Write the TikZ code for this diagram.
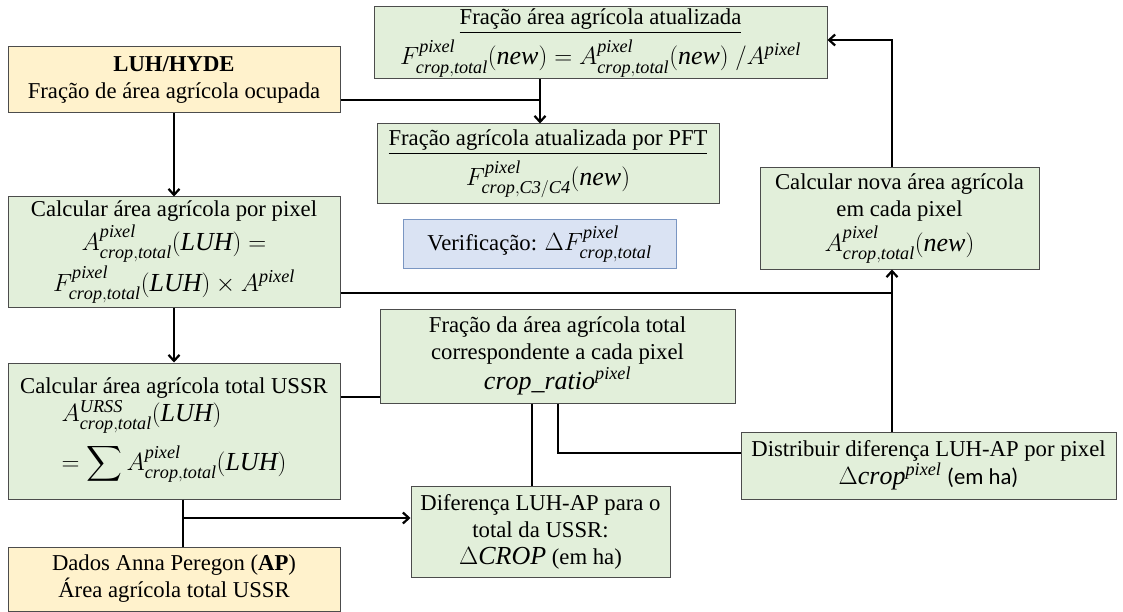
\documentclass[tikz,border=0pt]{standalone}
\usepackage{exscale}
\usepackage{fontspec}
\setmainfont{Liberation Serif}
\newfontfamily\carlito{Carlito}
\usetikzlibrary{arrows.meta,calc}
\definecolor{boxgreen}{HTML}{E2EFDA}
\definecolor{boxyellow}{HTML}{FFF2CC}
\definecolor{boxblue}{HTML}{DAE3F3}
\definecolor{blueedge}{HTML}{7A96C2}
\newcommand{\mfont}{\fontsize{26}{30}\selectfont}
\newcommand{\mi}[1]{\mathit{#1}}
\begin{document}
\begin{tikzpicture}[x=1pt,y=-1pt,
  every node/.style={font=\fontsize{22.7}{27}\selectfont},
  box/.style 2 args={draw=black!70, line width=1pt, fill=boxgreen, align=center,
    inner sep=0pt, minimum width=#1, minimum height=#2},
  ybox/.style={fill=boxyellow},
  bbox/.style={fill=boxblue, draw=blueedge},
  conn/.style={line width=2.2pt, black},
  arr/.style={conn, -{Straight Barb[length=6pt,width=11pt]}}]
\useasboundingbox (0,0) rectangle (1123,612);

\node[box={332pt}{66pt}, ybox] (luh) at (174,80) {\textbf{LUH/HYDE}\\Fração de área agrícola ocupada};
\node[box={332pt}{110pt}] (pixel) at (174,252) {Calcular área agrícola por pixel\\[3pt]
  {\mfont $A^{\mi{pixel}}_{\mi{crop,total}}(\mi{LUH}) =$}\\[3pt]
  {\mfont $F^{\mi{pixel}}_{\mi{crop,total}}(\mi{LUH})\times A^{\mi{pixel}}$}};
\node[box={332pt}{136pt}] (ussr) at (174,431) {Calcular área agrícola total USSR\\[1pt]
  {\mfont\begin{tabular}{@{}l@{}}
  $A^{\mi{URSS}}_{\mi{crop,total}}(\mi{LUH})$\\[14pt]
  $\displaystyle =\sum A^{\mi{pixel}}_{\mi{crop,total}}(\mi{LUH})$
  \end{tabular}}};
\node[box={332pt}{64pt}, ybox] (ap) at (174,579) {Dados Anna Peregon (\textbf{AP})\\Área agrícola total USSR};

\node[box={453pt}{72pt}] (top) at (600.5,43) {\underline{Fração área agrícola atualizada}\\[5pt]
  {\mfont $F^{\mi{pixel}}_{\mi{crop,total}}(\mi{new}) = A^{\mi{pixel}}_{\mi{crop,total}}(\mi{new})\ / A^{\mi{pixel}}$}};
\node[box={342pt}{80pt}] (pft) at (548,164) {\underline{Fração agrícola atualizada por PFT}\\[5pt]
  {\mfont $F^{\mi{pixel}}_{\mi{crop,C3/C4}}(\mi{new})$}};
\node[box={273pt}{48pt}, bbox] (verif) at (539.5,244) {Verificação: {\mfont $\Delta F^{\mi{pixel}}_{\mi{crop,total}}$}};
\node[box={279pt}{101pt}] (nova) at (899.5,218.5) {Calcular nova área agrícola\\em cada pixel\\[4pt]
  {\mfont $A^{\mi{pixel}}_{\mi{crop,total}}(\mi{new})$}};
\node[box={355pt}{94pt}] (frac) at (557.5,356) {Fração da área agrícola total\\correspondente a cada pixel\\[1pt]
  {\mfont $\mi{crop\_ratio}^{\mi{pixel}}$}};
\node[box={375pt}{67pt}] (dist) at (928.5,465.5) {Distribuir diferença LUH-AP por pixel\\[1pt]
  {\mfont $\Delta \mi{crop}^{\mi{pixel}}$} {\carlito (em ha)}};
\node[box={259pt}{91pt}] (diff) at (540.5,531.5) {Diferença LUH-AP para o\\total da USSR:\\
  {\mfont $\Delta \mi{CROP}$} (em ha)};

\coordinate (j1) at (540,100);
\coordinate (j2) at (892,293);
\coordinate (j3) at (380,397);
\coordinate (j4) at (183,518);
\coordinate (j5) at (558,453);
\coordinate (j6) at (892,40);
\coordinate (c1) at (532,0);

\draw[conn] (luh.east |- j1) -- (j1);
\draw[arr] (top.south -| j1) -- (pft.north -| j1);
\draw[arr] (luh) -- (pixel);
\draw[arr] (pixel) -- (ussr);
\draw[conn] (pixel.east |- j2) -- (j2);
\draw[arr] (dist.north -| j2) -- (nova.south -| j2);
\draw[arr] (nova.north -| j6) -- (j6) -- (top.east |- j6);
\draw[conn] (ussr.east |- j3) -- (frac.west |- j3);
\draw[conn] (ussr.south -| j4) -- (ap.north -| j4);
\draw[arr] (j4) -- (diff.west |- j4);
\draw[conn] (frac.south -| c1) -- (diff.north -| c1);
\draw[conn] (frac.south -| j5) -- (j5) -- (dist.west |- j5);
\end{tikzpicture}
\end{document}
